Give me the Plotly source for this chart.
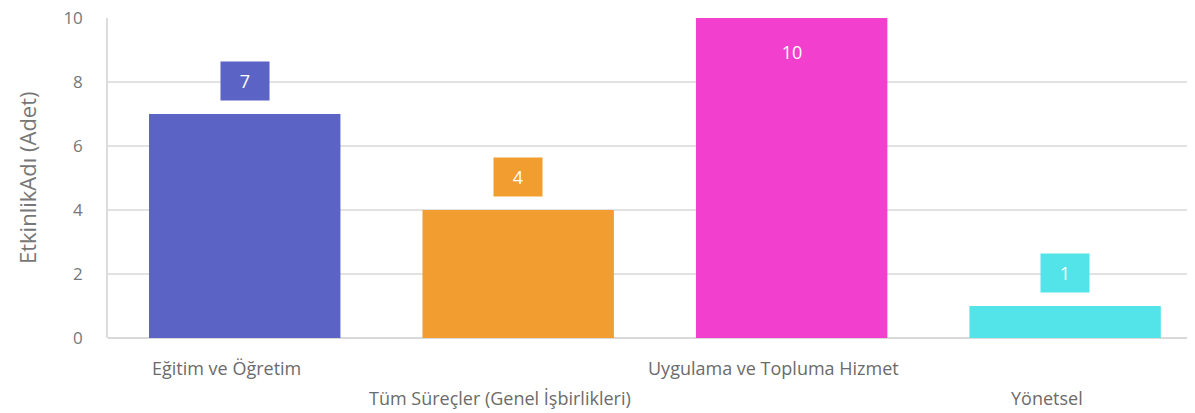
import plotly.graph_objects as go

categories = ["Eğitim ve Öğretim", "Tüm Süreçler (Genel İşbirlikleri)",
              "Uygulama ve Topluma Hizmet", "Yönetsel"]
values = [7, 4, 10, 1]
colors = ["#5B63C4", "#F29D30", "#F33FCE", "#53E4E9"]
y_ticks = [0, 2, 4, 6, 8, 10]
y_title = "EtkinlikAdı (Adet)"

FONT = "Segoe UI, Open Sans, sans-serif"

fig = go.Figure()
fig.add_trace(go.Bar(
    x=list(range(len(categories))), y=values,
    marker=dict(color=colors, line=dict(width=0)),
    width=0.7, hoverinfo="skip",
))

ymax = max(y_ticks)
annotations = []
for i, (v, c) in enumerate(zip(values, colors)):
    inside = v >= ymax
    annotations.append(dict(
        x=i, y=v, xref="x", yref="y", text=str(v), showarrow=False,
        bgcolor=c, width=46, height=36, yanchor="middle", xanchor="center",
        yshift=-34 if inside else 33,
        font=dict(family=FONT, size=18, color="white"),
    ))
    annotations.append(dict(
        x=i, y=0, xref="x", yref="paper", text=categories[i], showarrow=False,
        yanchor="middle", xanchor="center", xshift=-18,
        yshift=-30 if i % 2 == 0 else -60,
        font=dict(family=FONT, size=18, color="#6b6b6b"),
    ))
annotations.append(dict(
    x=0, y=0.5, xref="paper", yref="paper", text=y_title, showarrow=False,
    textangle=-90, xanchor="center", yanchor="middle", xshift=-81,
    font=dict(family=FONT, size=22, color="#777777"),
))

fig.update_layout(
    width=1195, height=413,
    margin=dict(l=100, r=8, t=10, b=83, autoexpand=False),
    paper_bgcolor="white", plot_bgcolor="white",
    showlegend=False,
    annotations=annotations,
    xaxis=dict(range=[-0.5, 3.475], showticklabels=False, showgrid=False,
               zeroline=False, showline=False, fixedrange=True,
               automargin=False),
    yaxis=dict(range=[0, ymax], tickvals=y_ticks, showgrid=True,
               gridcolor="#e2e2e2", gridwidth=1.5, zeroline=True,
               zerolinecolor="#d9d9d9", zerolinewidth=1.5,
               showline=True, linecolor="#dcdcdc", linewidth=1.5,
               ticks="", ticklabelstandoff=20, ticklabeloverflow="allow",
               tickfont=dict(family=FONT, size=17, color="#777777"),
               fixedrange=True, automargin=False),
)

fig.write_html("out.html")
